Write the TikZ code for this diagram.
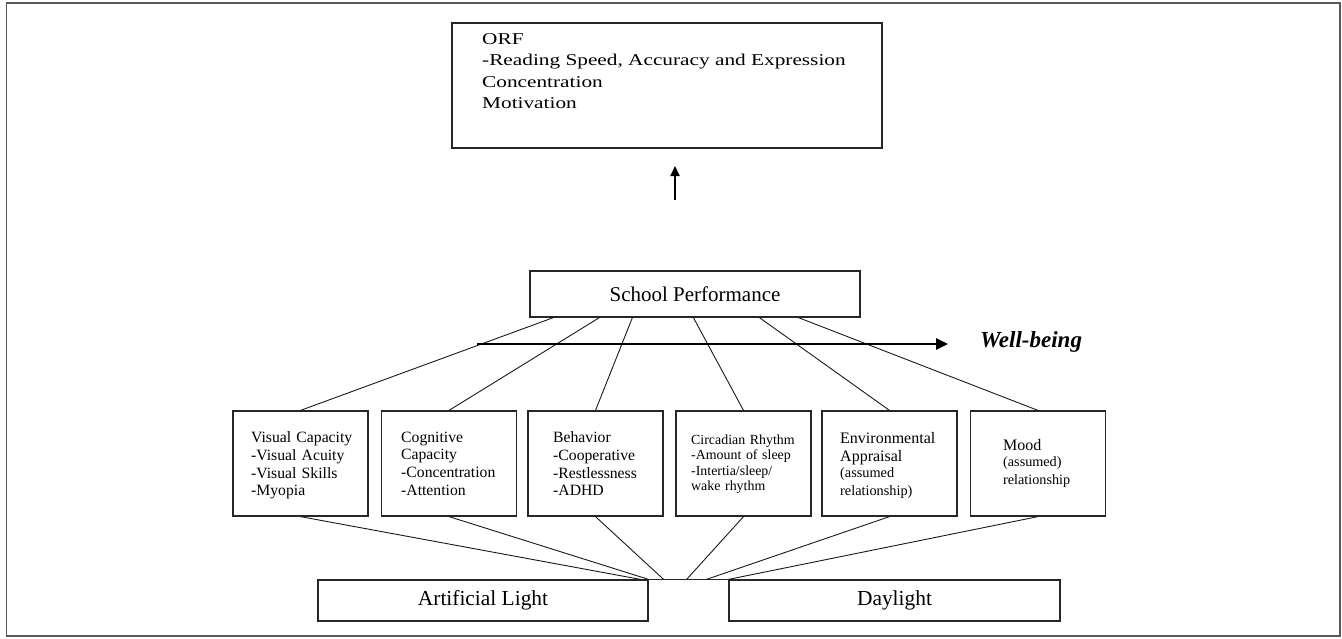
\documentclass[tikz,border=0pt]{standalone}
\usepackage{fontspec}
\setmainfont{Liberation Serif}
\newfontfamily\orffont{Liberation Serif}[FakeStretch=1.29]
\usetikzlibrary{arrows.meta,calc}
\tikzset{
  boxline/.style={draw=black!85, line width=1.2pt},
  smallbox/.style={boxline, minimum width=135pt, minimum height=105pt, inner sep=0pt},
  lbl/.style={anchor=north west, inner sep=0pt, text width=125pt, align=left},
  conn/.style={draw=black!90, line width=0.9pt},
}
\begin{document}
\begin{tikzpicture}[x=1pt,y=-1pt]
\useasboundingbox (0,0) rectangle (1342,638);
% outer frame
\draw[draw=black!65, line width=1.6pt] (6.5,3) rectangle (1340,636);

% ORF box
\node[boxline, minimum width=430pt, minimum height=125pt, inner sep=0pt] (orf) at (667,85.5) {};
\node[anchor=north west, inner sep=0pt, align=left, font=\orffont\fontsize{16.5}{21.5}\selectfont] (orfT) at (482,33)
  {ORF\\-Reading Speed, Accuracy and Expression\\Concentration\\Motivation};

% up arrow
\coordinate (upA) at (675,200);
\coordinate (upB) at (675,166);
\draw[draw=black, line width=2pt, -{Triangle[length=10pt,width=9pt]}] (upA) -- (upB);

% School performance
\node[boxline, minimum width=330pt, minimum height=46pt, inner sep=0pt,
      font=\fontsize{21}{24}\selectfont] (sp) at (695,294) {School Performance};

% small boxes
\node[smallbox] (vc) at (300.5,463.5) {};
\node[smallbox] (cc) at (449,463.5) {};
\node[smallbox] (be) at (595.5,463.5) {};
\node[smallbox] (cr) at (743.5,463.5) {};
\node[smallbox] (ea) at (889.5,463.5) {};
\node[smallbox] (mo) at (1038,463.5) {};

\node[lbl, font=\fontsize{15.7}{17.7}\selectfont] (vcT) at (251,431.5)
  {Visual Capacity\\-Visual Acuity\\-Visual Skills\\-Myopia};
\node[lbl, font=\fontsize{15.7}{17.7}\selectfont] (ccT) at (401,431.5)
  {Cognitive\\Capacity\\-Concentration\\-Attention};
\node[lbl, font=\fontsize{15.7}{17.7}\selectfont] (beT) at (553,431.5)
  {Behavior\\-Cooperative\\-Restlessness\\-ADHD};
\node[lbl, font=\fontsize{13.9}{15.5}\selectfont] (crT) at (691,434.5)
  {Circadian Rhythm\\-Amount of sleep\\-Intertia/sleep/\\wake rhythm};
\node[lbl, font=\fontsize{16}{18}\selectfont] (eaT) at (840,432)
  {Environmental\\Appraisal\par\fontsize{14.3}{16}\selectfont(assumed\\relationship)};
\node[lbl, font=\fontsize{16}{18}\selectfont] (moT) at (1003,439)
  {Mood\par\fontsize{14.2}{16}\selectfont(assumed)\\relationship};

% bottom boxes
\node[boxline, minimum width=330pt, minimum height=41pt, inner sep=0pt,
      font=\fontsize{21.4}{24}\selectfont] (al) at (483,600.5) {Artificial Light};
\node[boxline, minimum width=331pt, minimum height=41pt, inner sep=0pt,
      font=\fontsize{21.4}{24}\selectfont] (dl) at (894.5,600.5) {Daylight};
\draw[boxline] (al.north east) -- (dl.north west);

% connectors from school performance
\draw[conn] ([xshift=24pt]sp.south west) -- (vc.north);
\draw[conn] ([xshift=70pt]sp.south west) -- (cc.north);
\draw[conn] ([xshift=103pt]sp.south west) -- (be.north);
\draw[conn] ([xshift=164pt]sp.south west) -- (cr.north);
\draw[conn] ([xshift=230pt]sp.south west) -- (ea.north);
\draw[conn] ([xshift=269pt]sp.south west) -- (mo.north);

% connectors to light boxes
\draw[conn] (vc.south) -- ([xshift=-8pt]al.north east);
\draw[conn] (cc.south) -- (al.north east);
\draw[conn] (be.south) -- ([xshift=15pt]al.north east);
\draw[conn] (cr.south) -- ([xshift=38pt]al.north east);
\draw[conn] (ea.south) -- ([xshift=-22pt]dl.north west);
\draw[conn] (mo.south) -- (dl.north west);

% well-being arrow
\coordinate (wbA) at (477,344);
\coordinate (wbB) at (948,344);
\draw[draw=black, line width=2.6pt, -{Triangle[length=12pt,width=11pt]}] (wbA) -- (wbB);
\node[anchor=base west, inner sep=0pt, font=\fontsize{23}{26}\selectfont\bfseries\itshape] (wb) at (980,347) {Well-being};
\end{tikzpicture}
\end{document}
